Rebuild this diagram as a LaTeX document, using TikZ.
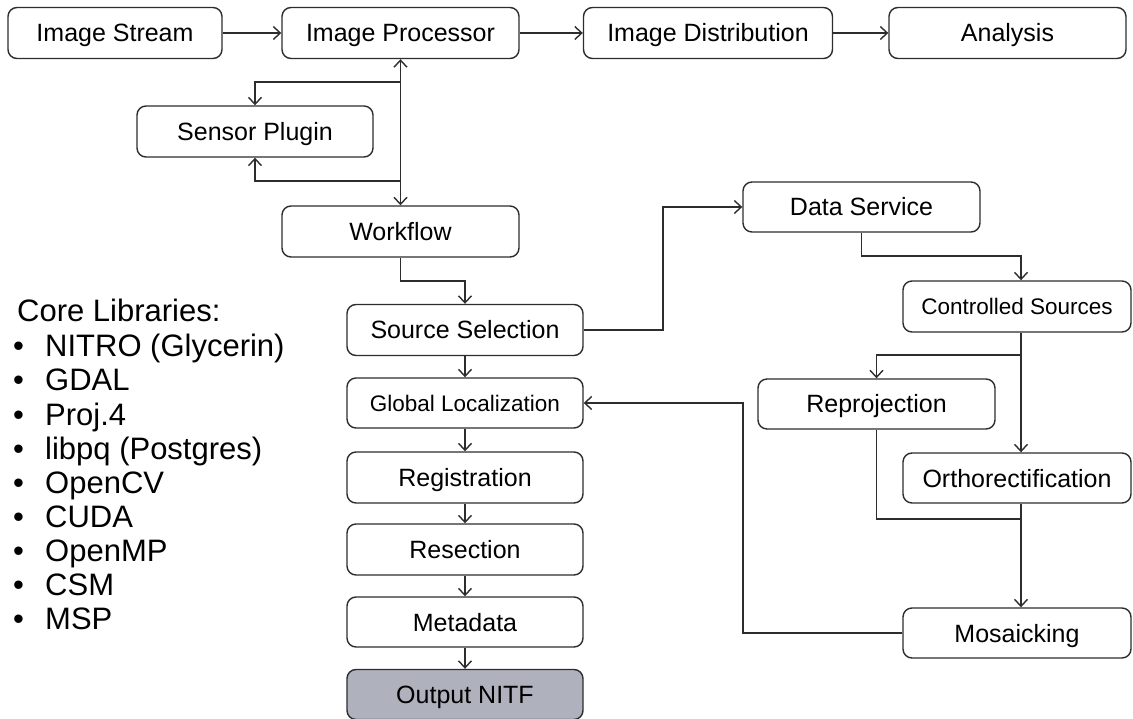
\documentclass[tikz,border=0pt]{standalone}
\usepackage{fontspec}
\setmainfont{Liberation Sans}
\usetikzlibrary{arrows.meta,calc}
\definecolor{linec}{RGB}{45,45,45}
\definecolor{outfill}{RGB}{175,177,189}
\begin{document}
\begin{tikzpicture}[x=1pt,y=-1pt,
  box/.style={draw=linec,line width=1.4pt,rounded corners=9pt,fill=white,
    minimum height=51pt,inner sep=0pt,text height=18pt,text depth=0pt,
    font=\fontsize{25}{30}\selectfont},
  smallbox/.style={box,text height=16pt,font=\fontsize{22.5}{27}\selectfont},
  conn/.style={draw=linec,line width=1.4pt},
  arr/.style={conn,-{Straight Barb[length=7pt,width=13pt,line width=1.4pt]}},
  lib/.style={anchor=base west,inner sep=0pt,font=\fontsize{31}{34}\selectfont}]
\useasboundingbox (0,0) rectangle (1133,719);
% top row
\node[box,minimum width=214pt] (stream) at (115,33) {Image Stream};
\node[box,minimum width=237pt] (proc) at (400.5,33) {Image Processor};
\node[box,minimum width=249pt] (dist) at (708,33) {Image Distribution};
\node[box,minimum width=237pt] (ana) at (1007.5,33) {Analysis};
% sensor / workflow
\node[box,minimum width=236pt] (sensor) at (255,131.5) {Sensor Plugin};
\node[box,minimum width=237pt] (work) at (400.5,231.5) {Workflow};
% left column
\node[box,minimum width=236pt] (src) at (465,330) {Source Selection};
\node[smallbox,minimum width=236pt,minimum height=50pt] (glob) at (465,403) {Global Localization};
\node[box,minimum width=236pt] (reg) at (465,477.5) {Registration};
\node[box,minimum width=236pt] (res) at (465,549.5) {Resection};
\node[box,minimum width=236pt,minimum height=50pt] (meta) at (465,622) {Metadata};
\node[box,minimum width=236pt,minimum height=50pt,fill=outfill] (out) at (465,694.5) {Output NITF};
% right side
\node[box,minimum width=237pt,minimum height=50pt] (data) at (861.5,207) {Data Service};
\node[smallbox,minimum width=228pt] (ctrl) at (1017,306.5) {Controlled Sources};
\node[box,minimum width=237pt,minimum height=50pt] (reproj) at (876.5,404) {Reprojection};
\node[box,minimum width=228pt,minimum height=50pt] (ortho) at (1017,478) {Orthorectification};
\node[box,minimum width=228pt,minimum height=50pt] (mosaic) at (1017,633) {Mosaicking};
% core libraries
\node[lib] (core) at (17,322) {Core Libraries:};
\node[lib] (l1) at (13,357) {\makebox[32pt][l]{•}NITRO (Glycerin)};
\node[lib] (l2) at (13,391) {\makebox[32pt][l]{•}GDAL};
\node[lib] (l3) at (13,425) {\makebox[32pt][l]{•}Proj.4};
\node[lib] (l4) at (13,459) {\makebox[32pt][l]{•}libpq (Postgres)};
\node[lib] (l5) at (13,493) {\makebox[32pt][l]{•}OpenCV};
\node[lib] (l6) at (13,527) {\makebox[32pt][l]{•}CUDA};
\node[lib] (l7) at (13,561) {\makebox[32pt][l]{•}OpenMP};
\node[lib] (l8) at (13,595) {\makebox[32pt][l]{•}CSM};
\node[lib] (l9) at (13,629) {\makebox[32pt][l]{•}MSP};
% coordinates
\coordinate (cx) at (1021,0);
\coordinate (j1) at (400.5,82);
\coordinate (j2) at (400.5,181);
% connectors top
\draw[arr] (stream.east) -- (proc.west);
\draw[arr] (proc.east) -- (dist.west);
\draw[arr] (dist.east) -- (ana.west);
\draw[conn,{Straight Barb[length=7pt,width=13pt,line width=1.4pt]}-{Straight Barb[length=7pt,width=13pt,line width=1.4pt]}] (proc.south) -- (work.north);
\draw[arr] (j1) -| (sensor.north);
\draw[arr] (j2) -| (sensor.south);
% workflow to source selection
\draw[arr] (work.south) -- (work.south |- 0,281) -| (src.north);
\draw[arr] (src.east) -- (663,330) |- (data.west);
\draw[arr] (src.south) -- (glob.north);
\draw[arr] (glob.south) -- (reg.north);
\draw[arr] (reg.south) -- (res.north);
\draw[arr] (res.south) -- (meta.north);
\draw[arr] (meta.south) -- (out.north);
% right side
\draw[arr] (data.south) -- (data.south |- 0,256) -| (ctrl.north -| cx);
\draw[arr] (ctrl.south -| cx) -- (ortho.north -| cx);
\draw[arr] (cx |- 0,355) -| (reproj.north);
\draw[conn] (reproj.south) |- (cx |- 0,519);
\draw[arr] (ortho.south -| cx) -- (mosaic.north -| cx);
\draw[arr] (mosaic.west) -| (743,403) -- (glob.east);
\end{tikzpicture}
\end{document}
